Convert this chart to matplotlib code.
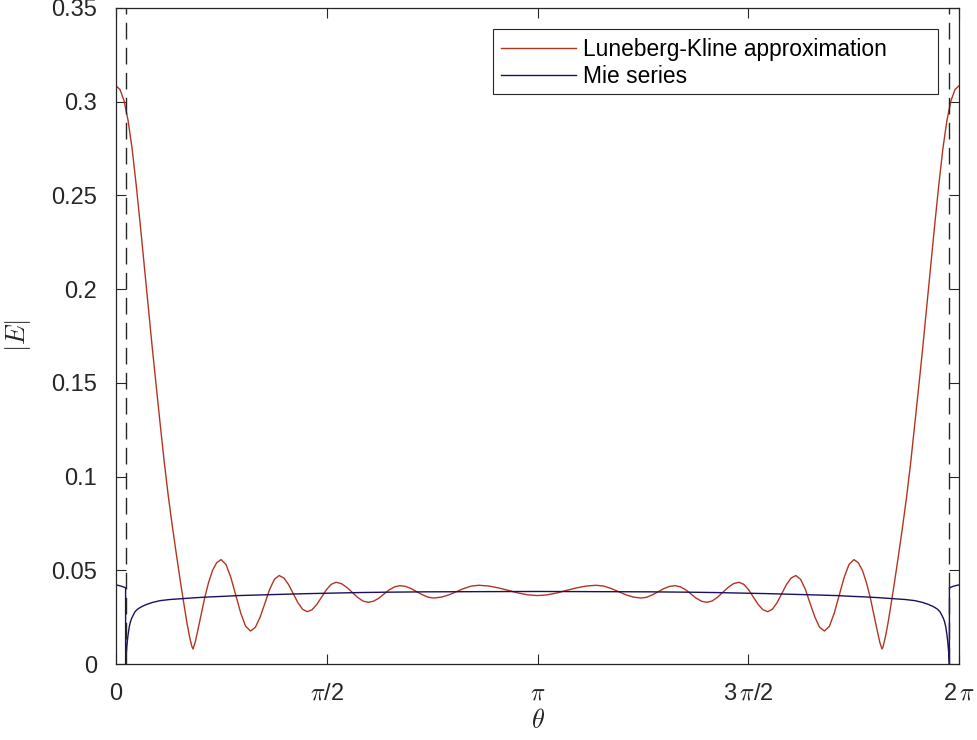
import numpy as np
import matplotlib
matplotlib.use("Agg")
import matplotlib.pyplot as plt
from matplotlib.patches import Rectangle

# ---------------- data ----------------
lk_theta = [
    0.000, 0.030, 0.060, 0.090, 0.120, 0.150, 0.180, 0.210, 0.240, 0.270,
    0.300, 0.330, 0.360, 0.390, 0.420, 0.450, 0.480, 0.505, 0.530, 0.550,
    0.565, 0.574, 0.590, 0.610, 0.635, 0.660, 0.690, 0.720, 0.750, 0.783,
    0.820, 0.856, 0.893, 0.930, 0.966, 1.003, 1.039, 1.074, 1.110, 1.145,
    1.181, 1.216, 1.251, 1.286, 1.321, 1.356, 1.391, 1.426, 1.462, 1.497,
    1.533, 1.569, 1.604, 1.640, 1.680, 1.720, 1.760, 1.800, 1.840, 1.880,
    1.919, 1.959, 1.998, 2.037, 2.077, 2.116, 2.158, 2.201, 2.243, 2.285,
    2.328, 2.370, 2.426, 2.482, 2.538, 2.593, 2.649, 2.705, 2.778, 2.851,
    2.923, 2.996, 3.069, 3.1416,
    3.214, 3.287, 3.360, 3.432, 3.505, 3.578, 3.634, 3.690, 3.745, 3.801,
    3.857, 3.913, 3.955, 3.998, 4.040, 4.082, 4.125, 4.167, 4.206, 4.246,
    4.285, 4.324, 4.364, 4.403, 4.443, 4.483, 4.523, 4.563, 4.603, 4.643,
    4.679, 4.714, 4.750, 4.786, 4.821, 4.857, 4.892, 4.927, 4.962, 4.997,
    5.032, 5.067, 5.102, 5.138, 5.173, 5.209, 5.244, 5.280, 5.317, 5.353,
    5.390, 5.427, 5.463, 5.500, 5.533, 5.563, 5.593, 5.623, 5.648, 5.673,
    5.693, 5.709, 5.718, 5.733, 5.753, 5.778, 5.803, 5.833, 5.863, 5.893,
    5.923, 5.953, 5.983, 6.013, 6.043, 6.073, 6.103, 6.133, 6.163, 6.193,
    6.223, 6.253, 6.2832,
]
lk_values = [
    0.3085, 0.3065, 0.3005, 0.2900, 0.2750, 0.2560, 0.2350, 0.2130, 0.1910, 0.1690,
    0.1480, 0.1275, 0.1075, 0.0895, 0.0735, 0.0585, 0.0440, 0.0325, 0.0215, 0.0140,
    0.0095, 0.0080, 0.0115, 0.0180, 0.0265, 0.0350, 0.0435, 0.0500, 0.0540, 0.0557,
    0.0531, 0.0462, 0.0367, 0.0271, 0.0201, 0.0176, 0.0196, 0.0250, 0.0324, 0.0398,
    0.0452, 0.0472, 0.0459, 0.0424, 0.0376, 0.0327, 0.0292, 0.0279, 0.0290, 0.0318,
    0.0358, 0.0397, 0.0425, 0.0436, 0.0429, 0.0409, 0.0383, 0.0356, 0.0336, 0.0329,
    0.0335, 0.0351, 0.0374, 0.0396, 0.0412, 0.0418, 0.0414, 0.0402, 0.0385, 0.0369,
    0.0356, 0.0352, 0.0357, 0.0369, 0.0386, 0.0403, 0.0416, 0.0420, 0.0416, 0.0406,
    0.0393, 0.0379, 0.0369, 0.0365,
    0.0369, 0.0379, 0.0393, 0.0406, 0.0416, 0.0420, 0.0416, 0.0403, 0.0386, 0.0369,
    0.0357, 0.0352, 0.0356, 0.0369, 0.0385, 0.0402, 0.0414, 0.0418, 0.0412, 0.0396,
    0.0374, 0.0351, 0.0335, 0.0329, 0.0336, 0.0356, 0.0383, 0.0409, 0.0429, 0.0436,
    0.0425, 0.0397, 0.0358, 0.0318, 0.0290, 0.0279, 0.0292, 0.0327, 0.0376, 0.0424,
    0.0459, 0.0472, 0.0452, 0.0398, 0.0324, 0.0250, 0.0196, 0.0176, 0.0201, 0.0271,
    0.0367, 0.0462, 0.0531, 0.0557, 0.0540, 0.0500, 0.0435, 0.0350, 0.0265, 0.0180,
    0.0115, 0.0080, 0.0095, 0.0140, 0.0215, 0.0325, 0.0440, 0.0585, 0.0735, 0.0895,
    0.1075, 0.1275, 0.1480, 0.1690, 0.1910, 0.2130, 0.2350, 0.2560, 0.2750, 0.2900,
    0.3005, 0.3065, 0.3085,
]

mie_theta = [
    0.000, 0.020, 0.040, 0.060, 0.0716, 0.0717, 0.0740, 0.0770, 0.0800, 0.0850,
    0.0900, 0.0990, 0.1080, 0.1170, 0.1300, 0.1420, 0.1600, 0.1790, 0.2000, 0.2290,
    0.2700, 0.3280, 0.4000, 0.5000, 0.6000, 0.7000, 0.8000, 0.9100, 1.0500, 1.2000,
    1.4000, 1.6000, 1.8000, 2.0000, 2.3000, 2.7000, 3.1416,
    3.5832, 3.9832, 4.2832, 4.4832, 4.6832, 4.8832, 5.0832, 5.2332, 5.3732, 5.4832,
    5.5832, 5.6832, 5.7832, 5.8832, 5.9552, 6.0132, 6.0542, 6.0832, 6.1042, 6.1232,
    6.1412, 6.1532, 6.1662, 6.1752, 6.1842, 6.1932, 6.1982, 6.2032, 6.2062, 6.2092,
    6.2115, 6.2116, 6.2232, 6.2432, 6.2632, 6.2832,
]
mie_values = [
    0.0422, 0.0419, 0.0415, 0.0410, 0.0407, 0.0000, 0.0030, 0.0060, 0.0085, 0.0125,
    0.0155, 0.0199, 0.0226, 0.0244, 0.0263, 0.0279, 0.0292, 0.0301, 0.0309, 0.0318,
    0.0328, 0.0338, 0.0344, 0.0349, 0.0354, 0.0358, 0.0361, 0.0365, 0.0368, 0.0371,
    0.0375, 0.0378, 0.0381, 0.0383, 0.0385, 0.0386, 0.0387,
    0.0386, 0.0385, 0.0383, 0.0381, 0.0378, 0.0375, 0.0371, 0.0368, 0.0365, 0.0361,
    0.0358, 0.0354, 0.0349, 0.0344, 0.0338, 0.0328, 0.0318, 0.0309, 0.0301, 0.0292,
    0.0279, 0.0263, 0.0244, 0.0226, 0.0199, 0.0155, 0.0125, 0.0085, 0.0060, 0.0030,
    0.0000, 0.0407, 0.0410, 0.0415, 0.0419, 0.0422,
]

shadow_theta = [0.0716, 6.2116]

x_ticks = [0, np.pi / 2, np.pi, 3 * np.pi / 2, 2 * np.pi]
x_tick_labels = ['0', r'$\pi$/2', r'$\pi$', r'3$\,\pi$/2', r'2$\,\pi$']
y_ticks = [0, 0.05, 0.1, 0.15, 0.2, 0.25, 0.3, 0.35]
y_tick_labels = ['0', '0.05', '0.1', '0.15', '0.2', '0.25', '0.3', '0.35']

series_labels = ['Luneberg-Kline approximation', 'Mie series']

# ---------------- styling ----------------
plt.rcParams['font.family'] = ['Liberation Sans', 'DejaVu Sans']
plt.rcParams['mathtext.fontset'] = 'cm'

RED = '#b5341f'
BLUE = '#1b1060'
AX = '#262626'

fig = plt.figure(figsize=(9.78, 7.40), dpi=100)
ax = fig.add_axes([0.1186, 0.1027, 0.8620, 0.8865])

ax.plot(lk_theta, lk_values, color=RED, lw=1.0, label=series_labels[0])
ax.plot(mie_theta, mie_values, color=BLUE, lw=1.0, label=series_labels[1])
for s in shadow_theta:
    ax.axvline(s, color=AX, lw=1.0, ls=(0, (12, 6)))

ax.set_xlim(0, 2 * np.pi)
ax.set_ylim(0, 0.35)
ax.set_xticks(x_ticks)
ax.set_xticklabels(x_tick_labels)
ax.set_yticks(y_ticks)
ax.set_yticklabels(y_tick_labels)

ax.tick_params(axis='both', direction='in', length=7.2, width=0.8,
               colors=AX, labelcolor='#262626', labelsize=17,
               top=True, right=True)
ax.tick_params(axis='x', pad=13.5)
ax.tick_params(axis='y', pad=13.5)
for sp in ax.spines.values():
    sp.set_color(AX)
    sp.set_linewidth(0.9)

ax.set_xlabel(r'$\theta$', fontsize=19, labelpad=3, color='#262626')
ax.set_ylabel(r'$|E|$', fontsize=19, labelpad=13, color='#262626')

# legend: entries without frame, frame drawn as a rectangle (MATLAB-like spacing)
leg = ax.legend(loc='upper left', bbox_to_anchor=(0.4567, 0.955),
                borderaxespad=0, borderpad=0, fontsize=16.4, frameon=False,
                handlelength=3.3, handletextpad=0.3, labelspacing=0.2)
ax.add_patch(Rectangle((0.4472, 0.8689), 0.9751 - 0.4472, 0.968 - 0.8689,
                       transform=ax.transAxes, fill=True, facecolor='white',
                       edgecolor=AX, lw=0.8, zorder=4.9))
leg.set_zorder(5)

fig.savefig('out.png', dpi=100)
